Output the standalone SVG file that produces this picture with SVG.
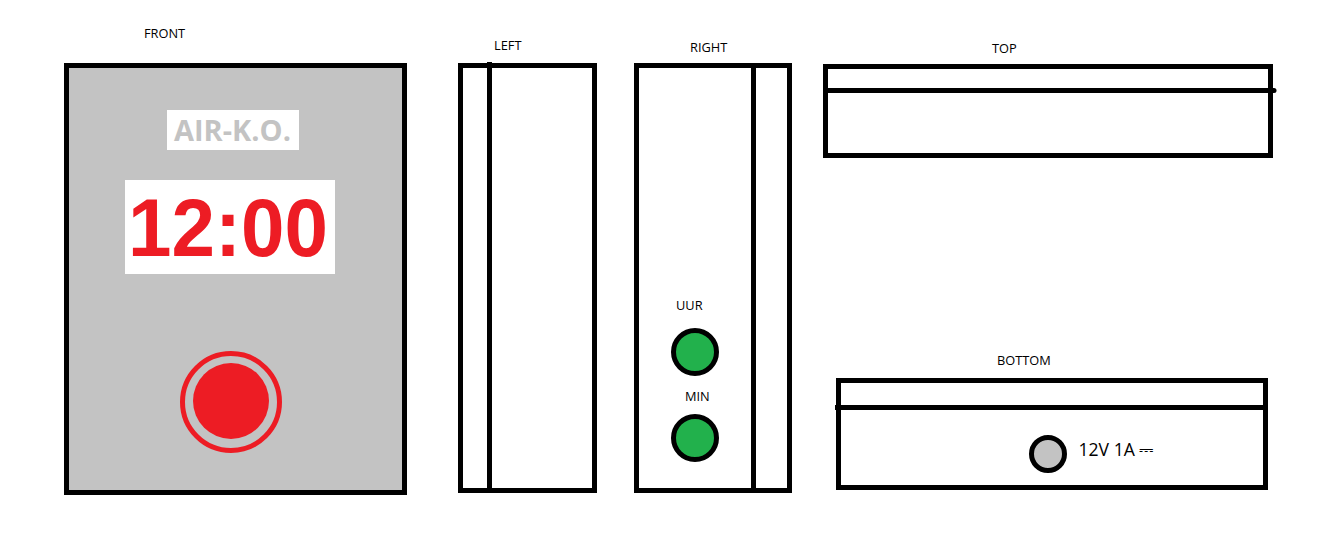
<svg xmlns="http://www.w3.org/2000/svg" width="1344" height="550" viewBox="0 0 1344 550">
  <style>
    .box { fill: #ffffff; stroke: #000000; stroke-width: 5; }
    .line { fill: none; stroke: #000000; stroke-width: 5; }
    .lbl { font-family: "Open Sans", "Noto Sans", sans-serif; font-size: 12.8px; fill: #000000; }
    .knob { fill: #22b14c; stroke: #000000; stroke-width: 5; }
  </style>
  <rect width="1344" height="550" fill="#ffffff"/>
  <g id="front">
    <rect x="66.5" y="65.5" width="338" height="427" fill="#c3c3c3" stroke="#000000" stroke-width="5"/>
    <rect x="167" y="110" width="132" height="40" fill="#ffffff"/>
    <text x="174" y="141" font-family="'Open Sans', 'Noto Sans', sans-serif" font-weight="700" font-size="29" fill="#c3c3c3">AIR-K.O.</text>
    <rect x="125" y="180" width="210" height="94" fill="#ffffff"/>
    <text x="128" y="256" textLength="200" lengthAdjust="spacingAndGlyphs" font-family="'Liberation Sans', Arial, sans-serif" font-weight="700" font-size="82" fill="#ed1c24">12:00</text>
    <circle cx="231" cy="402" r="48.5" fill="none" stroke="#ed1c24" stroke-width="5"/>
    <circle cx="231" cy="401" r="38" fill="#ed1c24"/>
    <text class="lbl" x="144" y="38">FRONT</text>
  </g>
  <g id="left">
    <rect class="box" x="460.5" y="65.5" width="134" height="425"/>
    <line class="line" x1="489.5" y1="62" x2="489.5" y2="490"/>
    <text class="lbl" x="494" y="50">LEFT</text>
  </g>
  <g id="right">
    <rect class="box" x="636.5" y="65.5" width="153" height="425"/>
    <line class="line" x1="753.5" y1="66" x2="753.5" y2="490"/>
    <text class="lbl" x="690" y="52">RIGHT</text>
    <text class="lbl" x="676" y="310">UUR</text>
    <circle class="knob" cx="695" cy="352" r="21.5"/>
    <text class="lbl" x="685" y="401">MIN</text>
    <circle class="knob" cx="695" cy="438" r="21.5"/>
  </g>
  <g id="top">
    <rect class="box" x="825.5" y="66.5" width="445" height="89"/>
    <line x1="826" y1="90.5" x2="1274" y2="90.5" stroke="#000000" stroke-width="5" stroke-linecap="round"/>
    <text class="lbl" x="992" y="53">TOP</text>
  </g>
  <g id="bottom">
    <rect class="box" x="838.5" y="380.5" width="427" height="107"/>
    <line class="line" x1="835" y1="407.5" x2="1265" y2="407.5"/>
    <text class="lbl" x="997" y="365">BOTTOM</text>
    <circle cx="1048" cy="454" r="16.5" fill="#c3c3c3" stroke="#000000" stroke-width="5"/>
    <text x="1078.5" y="456" font-family="'Open Sans', 'Noto Sans', 'DejaVu Sans', sans-serif" font-size="17.6" fill="#000000">12V 1A ⎓</text>
  </g>
  <g id="connectors"></g>
</svg>
